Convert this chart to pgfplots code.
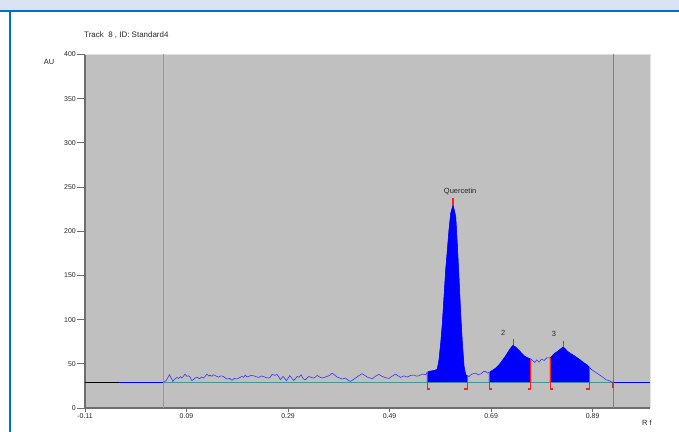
\documentclass[border=0pt]{standalone}
\usepackage{pgfplots}
\pgfplotsset{compat=1.18}
\usepackage{pgfplotstable}
\usepackage{fontspec}
\setmainfont{Liberation Sans}
\definecolor{band}{RGB}{217,227,243}
\definecolor{borderblue}{RGB}{0,112,201}
\definecolor{plotgray}{RGB}{192,192,192}
\definecolor{axisgray}{RGB}{110,110,110}
\definecolor{lightedge}{RGB}{225,225,225}
\definecolor{tealA}{RGB}{125,165,165}
\definecolor{tealB}{RGB}{70,150,150}
\definecolor{traceblue}{RGB}{55,55,245}
\definecolor{pkred}{RGB}{255,30,30}
\definecolor{darkred}{RGB}{170,60,60}
\definecolor{txt}{RGB}{40,40,40}

\pgfplotstableread{
x y
0.0445 29.4
0.0500 31.0
0.0563 37.6
0.0600 34.0
0.0629 30.1
0.0675 33.1
0.0710 34.5
0.0741 33.5
0.0780 35.5
0.0807 34.0
0.0840 36.0
0.0873 38.4
0.0905 35.8
0.0939 36.5
0.0970 35.0
0.1004 30.9
0.1040 32.5
0.1070 33.9
0.1110 34.8
0.1156 33.1
0.1195 35.0
0.1235 34.0
0.1270 36.0
0.1300 38.4
0.1340 36.0
0.1366 37.3
0.1400 35.8
0.1432 37.6
0.1480 36.2
0.1531 35.0
0.1580 36.4
0.1629 35.7
0.1660 34.0
0.1695 32.8
0.1750 33.5
0.1794 31.3
0.1840 33.4
0.1893 32.8
0.1940 34.2
0.1991 35.7
0.2025 34.8
0.2057 37.3
0.2090 35.2
0.2123 35.7
0.2170 36.8
0.2222 36.5
0.2270 35.4
0.2320 34.6
0.2370 36.2
0.2419 35.7
0.2470 34.3
0.2518 33.9
0.2550 35.0
0.2584 38.0
0.2640 37.0
0.2682 38.0
0.2715 35.5
0.2748 32.0
0.2801 35.7
0.2835 33.5
0.2867 30.9
0.2900 33.5
0.2932 36.5
0.2970 34.0
0.3011 31.3
0.3045 33.0
0.3077 35.7
0.3115 34.8
0.3156 37.6
0.3200 33.0
0.3242 32.0
0.3275 34.0
0.3308 35.7
0.3360 34.5
0.3406 33.9
0.3440 35.0
0.3472 36.9
0.3520 35.2
0.3571 33.9
0.3620 34.8
0.3669 35.7
0.3720 37.0
0.3768 39.5
0.3820 37.2
0.3867 35.0
0.3915 34.0
0.3966 32.8
0.4031 33.9
0.4080 31.5
0.4130 30.1
0.4180 32.0
0.4229 33.9
0.4290 36.5
0.4360 38.8
0.4410 37.0
0.4459 35.0
0.4510 34.0
0.4558 33.1
0.4620 35.8
0.4689 38.0
0.4740 36.2
0.4788 35.0
0.4840 34.0
0.4887 33.5
0.4950 36.0
0.5018 38.4
0.5065 36.5
0.5117 34.6
0.5180 36.4
0.5249 35.0
0.5310 36.8
0.5380 37.3
0.5430 36.0
0.5479 36.5
0.5545 38.4
0.5610 37.6
0.5640 40.2
0.5680 41.5
0.5740 42.0
0.5800 42.8
0.5840 44.0
0.5874 54.6
0.5910 75.0
0.5940 96.0
0.5975 128.0
0.6005 156.0
0.6040 180.0
0.6070 201.0
0.6104 220.3
0.6150 229.7
0.6203 216.5
0.6236 182.6
0.6269 145.0
0.6300 107.0
0.6334 73.0
0.6367 47.0
0.6400 37.6
0.6430 36.9
0.6465 35.5
0.6497 37.6
0.6545 38.8
0.6596 39.5
0.6640 37.6
0.6695 38.4
0.6750 41.3
0.6794 41.3
0.6830 39.5
0.6860 40.2
0.6925 42.5
0.6991 45.1
0.7057 48.9
0.7122 53.8
0.7188 59.1
0.7254 65.1
0.7300 68.9
0.7333 70.8
0.7366 69.6
0.7405 67.8
0.7452 65.1
0.7498 62.1
0.7550 59.1
0.7603 57.2
0.7649 56.1
0.7682 55.3
0.7715 53.8
0.7761 51.5
0.7800 54.5
0.7846 51.9
0.7892 55.3
0.7945 53.8
0.7998 56.8
0.8063 56.5
0.8142 61.4
0.8208 64.0
0.8274 67.0
0.8320 68.9
0.8353 67.4
0.8406 64.0
0.8471 61.4
0.8537 59.1
0.8603 56.5
0.8669 53.8
0.8735 50.8
0.8787 48.9
0.8833 46.3
0.8899 42.5
0.8965 40.2
0.9031 37.6
0.9097 35.0
0.9162 32.0
0.9228 30.9
0.9274 29.4
0.9310 29.4
}\trace

\begin{document}
\begin{tikzpicture}
\path[use as bounding box] (0,0) rectangle (679bp,432bp);
\fill[white] (0,0) rectangle (679bp,432bp);
\fill[band] (0,422bp) rectangle (679bp,432bp);
\fill[borderblue] (0,420bp) rectangle (679bp,422bp);
\fill[borderblue] (9bp,0) rectangle (11bp,422bp);
\node[anchor=west, font=\fontsize{8}{9}\selectfont, text=txt, inner sep=0pt] at (84bp,397bp) {Track\ \ 8 , ID: Standard4};
\node[font=\fontsize{7.5}{8}\selectfont, text=txt, inner sep=0pt] at (49bp,370bp) {AU};
\node[font=\fontsize{7.5}{8}\selectfont, text=txt, inner sep=0pt] at (647bp,9bp) {R f};
\begin{axis}[
  at={(85bp,24bp)}, anchor=south west,
  scale only axis, width=565bp, height=353.5bp,
  xmin=-0.11, xmax=1.003, ymin=0, ymax=400,
  axis background/.style={fill=plotgray},
  axis x line*=bottom, axis y line*=left,
  axis line style={draw=axisgray, line width=1.5bp},
  tick align=outside,
  major tick length=8bp,
  xtick={-0.11,0.09,0.29,0.49,0.69,0.89},
  xticklabels={-0.11,0.09,0.29,0.49,0.69,0.89},
  ytick={0,50,100,150,200,250,300,350,400},
  yticklabels={0,50,100,150,200,250,300,350,400},
  xtick style={draw=axisgray, line width=0.8bp, /pgfplots/major tick length=4bp},
  ytick style={draw=axisgray, line width=0.8bp},
  ticklabel style={font=\fontsize{7}{8}\selectfont, text=txt},
  yticklabel style={inner sep=1bp},
  xticklabel style={inner sep=1bp, yshift=4bp},
  clip=false,
]
\draw[lightedge, line width=1bp] (rel axis cs:0,1) -- (rel axis cs:1,1) -- (rel axis cs:1,0);
% baseline segments
\addplot[black, line width=0.8bp] coordinates {(-0.11,29.4) (-0.043,29.4)};
\addplot[blue, line width=1bp] coordinates {(-0.043,29.4) (0.0445,29.4)};
\addplot[tealB, line width=0.8bp] coordinates {(0.0445,29.4) (0.931,29.4)};
\addplot[blue, line width=1bp] coordinates {(0.931,29.4) (1.003,29.4)};
% track limits
\addplot[tealA, line width=1.4bp] coordinates {(0.0445,0) (0.0445,400)};
\addplot[tealB, line width=1.4bp] coordinates {(0.931,0) (0.931,400)};
% trace
\addplot[traceblue, line width=0.6bp] table[x=x,y=y] {\trace};
% peak fills
\addplot[fill=blue, draw=blue, line width=0.4bp] coordinates {
(0.5640,29.4) (0.5640,40.2) (0.5680,41.5) (0.5740,42.0) (0.5800,42.8) (0.5840,44.0)
(0.5874,54.6) (0.5910,75.0) (0.5940,96.0) (0.5975,128.0) (0.6005,156.0) (0.6040,180.0)
(0.6070,201.0) (0.6104,220.3) (0.6150,229.7) (0.6203,216.5) (0.6236,182.6) (0.6269,145.0)
(0.6300,107.0) (0.6334,73.0) (0.6367,47.0) (0.6400,37.6) (0.6430,36.9) (0.6430,29.4)};
\addplot[fill=blue, draw=blue, line width=0.4bp] coordinates {
(0.6860,29.4) (0.6860,40.2) (0.6925,42.5) (0.6991,45.1) (0.7057,48.9) (0.7122,53.8)
(0.7188,59.1) (0.7254,65.1) (0.7300,68.9) (0.7333,70.8) (0.7366,69.6) (0.7405,67.8)
(0.7452,65.1) (0.7498,62.1) (0.7550,59.1) (0.7603,57.2) (0.7649,56.1) (0.7682,55.3) (0.7682,29.4)};
\addplot[fill=blue, draw=blue, line width=0.4bp] coordinates {
(0.8063,29.4) (0.8063,56.5) (0.8142,61.4) (0.8208,64.0) (0.8274,67.0) (0.8320,68.9)
(0.8353,67.4) (0.8406,64.0) (0.8471,61.4) (0.8537,59.1) (0.8603,56.5) (0.8669,53.8)
(0.8735,50.8) (0.8787,48.9) (0.8833,46.3) (0.8833,29.4)};
% brackets
\addplot[pkred, line width=1.1bp] coordinates {(0.5695,21.5) (0.5640,21.5) (0.5640,40.2)};
\addplot[pkred, line width=1.1bp] coordinates {(0.6375,21.5) (0.6430,21.5) (0.6430,36.9)};
\addplot[pkred, line width=1.1bp] coordinates {(0.6915,21.5) (0.6860,21.5) (0.6860,40.2)};
\addplot[pkred, line width=1.1bp] coordinates {(0.7627,21.5) (0.7682,21.5) (0.7682,55.3)};
\addplot[pkred, line width=1.1bp] coordinates {(0.8118,21.5) (0.8063,21.5) (0.8063,56.5)};
\addplot[pkred, line width=1.1bp] coordinates {(0.8778,21.5) (0.8833,21.5) (0.8833,46.3)};
% peak top marks
\addplot[pkred, line width=1.1bp] coordinates {(0.6150,229.7) (0.6150,237.5)};
\addplot[pkred, line width=1.1bp] coordinates {(0.7333,70.8) (0.7333,78.3)};
\addplot[pkred, line width=1.1bp] coordinates {(0.8320,68.9) (0.8320,76.0)};
\addplot[darkred, line width=1.3bp] coordinates {(0.9300,29.4) (0.9300,22.7)};
% labels
\node[font=\fontsize{7.5}{8}\selectfont, text=txt, inner sep=0pt] at (axis cs:0.629,244.8) {Quercetin};
\node[font=\fontsize{7.5}{8}\selectfont, text=txt, inner sep=0pt] at (axis cs:0.714,85.5) {2};
\node[font=\fontsize{7.5}{8}\selectfont, text=txt, inner sep=0pt] at (axis cs:0.814,83.6) {3};
\end{axis}
\end{tikzpicture}
\end{document}
